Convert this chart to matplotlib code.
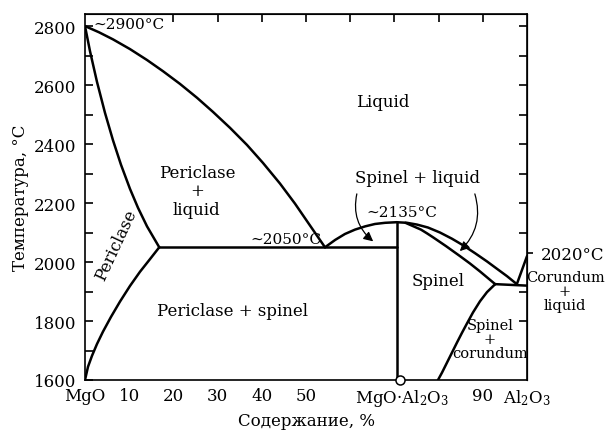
import matplotlib
matplotlib.use("Agg")
import matplotlib.pyplot as plt

plt.rcParams['font.family'] = ['DejaVu Serif']
plt.rcParams['mathtext.fontset'] = 'dejavuserif'

# Phase boundaries of the MgO–Al2O3 system (composition, % Al2O3; temperature, °C)
periclase_liquidus_x = [0, 3.17, 6.33, 10.18, 14.03, 17.65, 21.49, 25.34, 28.96,
                        32.81, 36.65, 40.27, 44.12, 47.51, 50.90, 54.3]
periclase_liquidus_t = [2800, 2779, 2755, 2722, 2685, 2647, 2604, 2557, 2509,
                        2455, 2397, 2336, 2266, 2198, 2124, 2050]

periclase_solidus_x = [0, 1.13, 2.71, 4.52, 6.33, 8.14, 10.18, 11.99, 14.03, 16.8]
periclase_solidus_t = [2800, 2715, 2611, 2506, 2413, 2330, 2248, 2184, 2121, 2050]

periclase_solvus_x = [16.8, 14.71, 12.44, 10.18, 7.92, 5.88, 4.07, 2.71, 1.58, 0.68, 0]
periclase_solvus_t = [2050, 2010, 1967, 1919, 1866, 1814, 1764, 1722, 1682, 1645, 1600]

eutectic_left_x = [16.8, 70.5]
eutectic_left_t = [2050, 2050]

spinel_liquidus_x = [54.3, 56.6, 58.8, 61.1, 63.4, 65.6, 67.9, 70.5, 72.85, 75.11,
                     77.6, 80.32, 83.03, 85.52, 88.24, 90.95, 93.21, 95.48, 97.7]
spinel_liquidus_t = [2050, 2075, 2095, 2110, 2121, 2129, 2133, 2135, 2133, 2127,
                     2117, 2100, 2079, 2057, 2030, 2002, 1977, 1952, 1925]

spinel_solidus_x = [72.5, 76.0, 77.4, 78.73, 81.67, 84.84, 87.1, 89.37, 92.8]
spinel_solidus_t = [2133, 2110, 2097, 2084, 2054, 2020, 1995, 1968, 1925]

spinel_solvus_x = [92.8, 90.95, 89.37, 87.78, 86.43, 85.29, 84.16, 83.03, 81.9,
                   80.77, 79.86]
spinel_solvus_t = [1925, 1898, 1867, 1829, 1792, 1760, 1727, 1693, 1659,
                   1625, 1600]

eutectic_right_x = [92.8, 100]
eutectic_right_t = [1925, 1920]

corundum_liquidus_x = [97.7, 100]
corundum_liquidus_t = [1925, 2020]

spinel_line_x = [70.5, 70.5]
spinel_line_t = [1600, 2135]

spinel_point_x = [71.3]
spinel_point_t = [1600]

x_tick_pos = [0, 10, 20, 30, 40, 50, 71.7, 90, 100]
x_tick_labels = ['MgO', '10', '20', '30', '40', '50',
                 'MgO·Al$_2$O$_3$', '90', 'Al$_2$O$_3$']
y_tick_pos = [1600, 1800, 2000, 2200, 2400, 2600, 2800]
y_minor_pos = [1700, 1900, 2100, 2300, 2500, 2700]
top_tick_pos = [20, 30, 40, 50, 60, 70, 80, 90]
right_tick_pos = [1800, 1900, 2100, 2200, 2300, 2400, 2500, 2600, 2700, 2800]
corundum_melt_pos = [2032]
corundum_melt_label = ['2020°C']

fig = plt.figure(figsize=(6.15, 4.31), dpi=100)
ax = fig.add_axes([85 / 615, 50 / 431, 442 / 615, 366 / 431])
ax.set_xlim(0, 100)
ax.set_ylim(1600, 2841)

lw = 1.8
for xs, ts in [(periclase_liquidus_x, periclase_liquidus_t),
               (periclase_solidus_x, periclase_solidus_t),
               (periclase_solvus_x, periclase_solvus_t),
               (eutectic_left_x, eutectic_left_t),
               (spinel_liquidus_x, spinel_liquidus_t),
               (spinel_solidus_x, spinel_solidus_t),
               (spinel_solvus_x, spinel_solvus_t),
               (eutectic_right_x, eutectic_right_t),
               (corundum_liquidus_x, corundum_liquidus_t),
               (spinel_line_x, spinel_line_t)]:
    ax.plot(xs, ts, color='black', lw=lw, solid_capstyle='round',
            solid_joinstyle='round', zorder=3)

ax.plot(spinel_point_x, spinel_point_t, 'o', ms=6.5, mfc='white', mec='black',
        mew=1.1, clip_on=False, zorder=5)

for sp in ax.spines.values():
    sp.set_linewidth(1.2)

# Axis ticks
ax.set_xticks(x_tick_pos)
ax.set_xticklabels(x_tick_labels)
ax.tick_params(axis='x', length=0, pad=5, labelsize=12)
ax.set_yticks(y_tick_pos)
ax.set_yticks(y_minor_pos, minor=True)
ax.tick_params(axis='y', which='both', direction='in', length=6, width=1.2,
               pad=6, labelsize=12)

top = ax.secondary_xaxis('top')
top.set_xticks(top_tick_pos)
top.tick_params(direction='in', length=6, width=1.2, labeltop=False)

right = ax.secondary_yaxis('right')
right.set_yticks(right_tick_pos)
right.tick_params(direction='in', length=6, width=1.2, labelright=False)

melt = ax.secondary_yaxis('right')
melt.set_yticks(corundum_melt_pos)
melt.set_yticklabels(corundum_melt_label)
melt.tick_params(direction='out', length=4, width=1.2, pad=6, labelsize=12)

ax.set_xlabel('Содержание, %', fontsize=12, labelpad=3)
ax.set_ylabel('Температура, °C', fontsize=12, labelpad=4)

# Region labels
fs = 12
ax.text(1.8, 2807, '∼2900°C', fontsize=11, ha='left', va='center')
ax.text(67.4, 2546, 'Liquid', fontsize=fs, ha='center', va='center')
ax.text(25.3, 2241, 'Periclase\n+\nliquid', fontsize=fs, ha='center',
        va='center', linespacing=1.1)
ax.text(7.0, 2058, 'Periclase', fontsize=fs, ha='center', va='center',
        rotation=65, rotation_mode='anchor')
ax.text(45.5, 2078, '∼2050°C', fontsize=11, ha='center', va='center')
ax.text(75.2, 2288, 'Spinel + liquid', fontsize=fs, ha='center', va='center')
ax.text(71.7, 2169, '∼2135°C', fontsize=11, ha='center', va='center')
ax.text(80.0, 1939, 'Spinel', fontsize=fs, ha='center', va='center')
ax.text(33.3, 1834, 'Periclase + spinel', fontsize=fs, ha='center', va='center')
ax.text(91.6, 1739, 'Spinel\n+\ncorundum', fontsize=10.5, ha='center',
        va='center', linespacing=1.0)
ax.text(108.6, 1902, 'Corundum\n+\nliquid', fontsize=10.5, ha='center',
        va='center', linespacing=1.0, clip_on=False)

arrow = dict(arrowstyle='-|>', color='black', lw=0.9, mutation_scale=14,
             shrinkA=0, shrinkB=0)
ax.annotate('', xy=(65.2, 2070), xytext=(61.5, 2231),
            arrowprops=dict(arrow, connectionstyle='arc3,rad=0.3'))
ax.annotate('', xy=(84.8, 2037), xytext=(88.2, 2231),
            arrowprops=dict(arrow, connectionstyle='arc3,rad=-0.3'))

fig.savefig('out.png', dpi=100)
